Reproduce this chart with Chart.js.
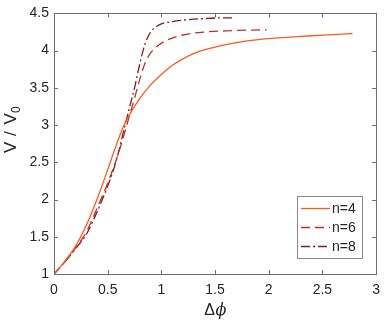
<!DOCTYPE html>
<html>
<head>
<meta charset="utf-8">
<script src="https://cdn.jsdelivr.net/npm/chart.js@4.4.1/dist/chart.umd.min.js"></script>
<style>
html,body{margin:0;padding:0;background:#fff;}
#c{display:block;}
</style>
</head>
<body>
<canvas id="c" width="388" height="323"></canvas>
<script>
// ---- data ----
const seriesLabels = ["n=4", "n=6", "n=8"];

const x_n4 = [0, 0.1, 0.2, 0.3, 0.4, 0.5, 0.55, 0.6, 0.65, 0.7, 0.8, 0.9, 1.0, 1.1, 1.2, 1.3, 1.4, 1.6, 1.8, 2.0, 2.2, 2.4, 2.6, 2.78];
const y_n4 = [1, 1.17, 1.37, 1.65, 2.0, 2.4, 2.61, 2.81, 2.99, 3.13, 3.36, 3.54, 3.68, 3.80, 3.89, 3.96, 4.01, 4.08, 4.13, 4.16, 4.18, 4.20, 4.215, 4.23];

const x_n6 = [0, 0.1, 0.2, 0.3, 0.4, 0.5, 0.6, 0.65, 0.7, 0.75, 0.8, 0.85, 0.9, 0.97, 1.05, 1.2, 1.4, 1.6, 1.8, 1.98];
const y_n6 = [1, 1.16, 1.35, 1.56, 1.88, 2.22, 2.62, 2.86, 3.11, 3.36, 3.62, 3.84, 3.97, 4.07, 4.14, 4.21, 4.25, 4.265, 4.275, 4.28];

const x_n8 = [0, 0.1, 0.2, 0.3, 0.4, 0.45, 0.5, 0.55, 0.6, 0.65, 0.7, 0.75, 0.8, 0.85, 0.9, 0.95, 1.0, 1.1, 1.2, 1.4, 1.55, 1.68];
const y_n8 = [1, 1.16, 1.34, 1.53, 1.83, 2.0, 2.18, 2.38, 2.63, 2.93, 3.22, 3.50, 3.83, 4.10, 4.25, 4.32, 4.36, 4.39, 4.41, 4.43, 4.44, 4.44];

const xTickValues = [0, 0.5, 1, 1.5, 2, 2.5, 3];
const yTickValues = [1, 1.5, 2, 2.5, 3, 3.5, 4, 4.5];

// ---- styling ----
const FONT = "'Liberation Sans', Arial, Helvetica, sans-serif";
const TEXT = "#262626";
const AXIS = "#6e6e6e";
const colors = ["#FF5A1E", "#B8302F", "#8B1818"];
const dashes = [[], [9, 5], [9, 3, 2, 3]];

function pts(xs, ys) { return xs.map((x, i) => ({x: x, y: ys[i]})); }
const seriesX = [x_n4, x_n6, x_n8];
const seriesY = [y_n4, y_n6, y_n8];

const datasets = seriesLabels.map((lab, i) => ({
  label: lab,
  data: pts(seriesX[i], seriesY[i]),
  borderColor: colors[i],
  borderWidth: 1.3,
  borderDash: dashes[i],
  pointRadius: 0,
  fill: false,
  cubicInterpolationMode: 'monotone'
}));

const decor = {
  id: 'decor',
  afterDatasetsDraw(chart) {
    const ctx = chart.ctx;
    const a = chart.chartArea;
    const xs = chart.scales.x, ys = chart.scales.y;
    ctx.save();
    // box
    ctx.strokeStyle = AXIS;
    ctx.lineWidth = 1;
    ctx.strokeRect(Math.round(a.left) + 0.5, Math.round(a.top) + 0.5,
                   Math.round(a.right - a.left), Math.round(a.bottom - a.top));
    // inward ticks
    const tl = 4;
    ctx.beginPath();
    xTickValues.forEach(v => {
      const px = Math.round(xs.getPixelForValue(v)) + 0.5;
      ctx.moveTo(px, a.bottom); ctx.lineTo(px, a.bottom - tl);
      ctx.moveTo(px, a.top); ctx.lineTo(px, a.top + tl);
    });
    yTickValues.forEach(v => {
      const py = Math.round(ys.getPixelForValue(v)) + 0.5;
      ctx.moveTo(a.left, py); ctx.lineTo(a.left + tl, py);
      ctx.moveTo(a.right, py); ctx.lineTo(a.right - tl, py);
    });
    ctx.stroke();

    // legend
    const lx = 297.5, ly = 196.5, lw = 65, lh = 62;
    ctx.fillStyle = "#fff";
    ctx.fillRect(lx, ly, lw, lh);
    ctx.strokeStyle = "#8a8a8a";
    ctx.strokeRect(lx, ly, lw, lh);
    const rows = [208.5, 227.5, 246.5];
    chart.data.datasets.forEach((ds, i) => {
      ctx.strokeStyle = ds.borderColor;
      ctx.lineWidth = 1.3;
      ctx.setLineDash(ds.borderDash || []);
      ctx.beginPath();
      ctx.moveTo(301, rows[i]); ctx.lineTo(330, rows[i]);
      ctx.stroke();
      ctx.setLineDash([]);
      ctx.fillStyle = TEXT;
      ctx.font = "14px " + FONT;
      ctx.textAlign = "left";
      ctx.textBaseline = "middle";
      ctx.fillText(ds.label, 332, rows[i] + 1);
    });

    // x title: Δϕ
    ctx.fillStyle = TEXT;
    ctx.textBaseline = "alphabetic";
    ctx.textAlign = "left";
    ctx.font = "16px " + FONT;
    const cx = (a.left + a.right) / 2;
    const wD = ctx.measureText("Δ").width;
    ctx.font = "italic 16px 'DejaVu Serif', 'Liberation Serif', serif";
    const wP = ctx.measureText("ϕ").width;
    const startX = cx - (wD + wP) / 2;
    ctx.font = "16px " + FONT;
    ctx.fillText("Δ", startX, 315);
    ctx.font = "italic 16px 'DejaVu Serif', 'Liberation Serif', serif";
    ctx.fillText("ϕ", startX + wD + 0.5, 315);

    // y title: V / V0 (rotated)
    ctx.save();
    ctx.translate(15.5, 153);
    ctx.rotate(-Math.PI / 2);
    ctx.font = "17px " + FONT;
    ctx.textAlign = "left";
    ctx.textBaseline = "alphabetic";
    ctx.fillText("V", 0, 0);
    ctx.fillText("/", 17, 0);
    ctx.fillText("V", 28.5, 0);
    ctx.font = "12px " + FONT;
    ctx.fillText("0", 40, 4);
    ctx.restore();

    ctx.restore();
  }
};

new Chart(document.getElementById('c'), {
  type: 'line',
  data: { datasets: datasets },
  options: {
    responsive: false,
    devicePixelRatio: 1,
    animation: false,
    layout: { padding: { top: 10, right: 8, left: 0, bottom: 0 } },
    plugins: { legend: { display: false }, tooltip: { enabled: false } },
    scales: {
      x: {
        type: 'linear', min: 0, max: 3,
        afterBuildTicks: s => { s.ticks = xTickValues.map(v => ({value: v})); },
        afterFit: s => { s.height = 49; },
        grid: { display: false, drawTicks: false },
        border: { display: false },
        ticks: { color: TEXT, font: { family: FONT, size: 14 }, padding: 8, maxRotation: 0,
                 callback: v => String(v) }
      },
      y: {
        type: 'linear', min: 1, max: 4.5,
        afterBuildTicks: s => { s.ticks = yTickValues.map(v => ({value: v})); },
        afterFit: s => { s.width = 54; },
        grid: { display: false, drawTicks: false },
        border: { display: false },
        ticks: { color: TEXT, font: { family: FONT, size: 14 }, padding: 5,
                 callback: v => String(v) }
      }
    }
  },
  plugins: [decor]
});
</script>
</body>
</html>
